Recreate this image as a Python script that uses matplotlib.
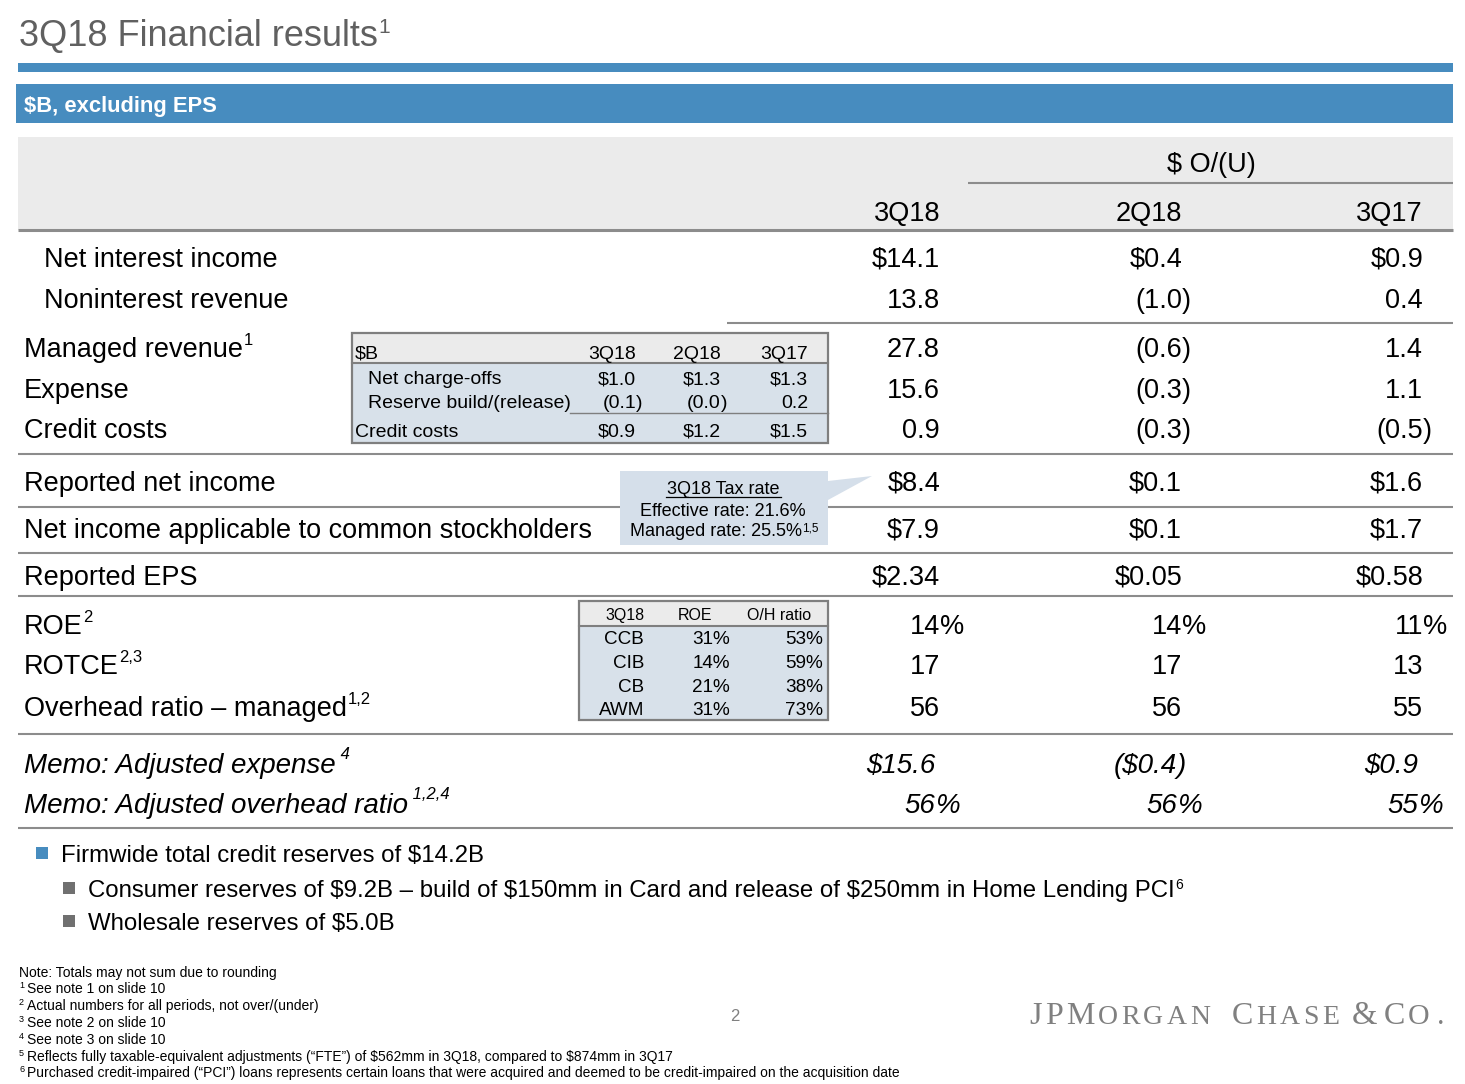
import matplotlib.pyplot as plt
from matplotlib.patches import Rectangle, Polygon

plt.rcParams['font.family'] = ['Liberation Sans', 'DejaVu Sans']
plt.rcParams['text.parse_math'] = False

# --- data ---
title = "3Q18 Financial results"
band_label = "$B, excluding EPS"
col_heads = ["3Q18", "2Q18", "3Q17"]

row_labels = ["Net interest income", "Noninterest revenue", "Managed revenue",
              "Expense", "Credit costs", "Reported net income",
              "Net income applicable to common stockholders", "Reported EPS",
              "ROE", "ROTCE", "Overhead ratio \u2013 managed",
              "Memo: Adjusted expense", "Memo: Adjusted overhead ratio"]
row_sups = ["", "", "1", "", "", "", "", "", "2", "2,3", "1,2", " 4", " 1,2,4"]
v_3q18 = ["$14.1", "13.8", "27.8", "15.6", "0.9", "$8.4", "$7.9", "$2.34",
          "14%", "17", "56", "$15.6", "56%"]
v_2q18 = ["$0.4", "(1.0)", "(0.6)", "(0.3)", "(0.3)", "$0.1", "$0.1", "$0.05",
          "14%", "17", "56", "($0.4)", "56%"]
v_3q17 = ["$0.9", "0.4", "1.4", "1.1", "(0.5)", "$1.6", "$1.7", "$0.58",
          "11%", "13", "55", "$0.9", "55%"]

cc_rows = ["Net charge-offs", "Reserve build/(release)", "Credit costs"]
cc_vals = [["$1.0", "$1.3", "$1.3"],
           ["(0.1)", "(0.0)", "0.2"],
           ["$0.9", "$1.2", "$1.5"]]

seg_heads = ["3Q18", "ROE", "O/H ratio"]
segments = ["CCB", "CIB", "CB", "AWM"]
seg_roe = ["31%", "14%", "21%", "31%"]
seg_oh = ["53%", "59%", "38%", "73%"]

tax_lines = ["3Q18 Tax rate", "Effective rate: 21.6%", "Managed rate: 25.5%"]

bullets = ["Firmwide total credit reserves of $14.2B",
           "Consumer reserves of $9.2B \u2013 build of $150mm in Card and release of $250mm in Home Lending PCI",
           "Wholesale reserves of $5.0B"]

notes = ["Note: Totals may not sum due to rounding",
         "See note 1 on slide 10",
         "Actual numbers for all periods, not over/(under)",
         "See note 2 on slide 10",
         "See note 3 on slide 10",
         "Reflects fully taxable-equivalent adjustments (\u201cFTE\u201d) of $562mm in 3Q18, compared to $874mm in 3Q17",
         "Purchased credit-impaired (\u201cPCI\u201d) loans represents certain loans that were acquired and deemed to be credit-impaired on the acquisition date"]
note_marks = ["", "1", "2", "3", "4", "5", "6"]

# --- layout / style ---
BLUE = '#478cbf'
LINE = '#8c8c8c'
BOXEDGE = '#7f7f7f'
HEADGRAY = '#ebebeb'
BOXBLUE = '#d8e1ea'
TXT = '#000000'
LOGO = '#808080'

fig = plt.figure(figsize=(14.65, 10.84), dpi=100)
ax = fig.add_axes([0, 0, 1, 1])
ax.set_xlim(0, 1465)
ax.set_ylim(1084, 0)
ax.axis('off')


def put(x, y, s, size, ha='left', **kw):
    # y is the visual centre of the capitals
    base = y + 0.36 * size * 100 / 72
    return ax.text(x, base, s, fontsize=size, ha=ha, va='baseline', **kw)


def sup(t, s, size, rise=1.5, **kw):
    return ax.annotate(s, xy=(1, 1), xycoords=t, xytext=(0.3, rise),
                       textcoords='offset points', fontsize=size,
                       ha='left', va='top', **kw)


def put_num(x, y, s, size, **kw):
    if s[-1] in ')%':
        put(x, y, s[:-1], size, ha='right', **kw)
        put(x, y, s[-1], size, ha='left', **kw)
    else:
        put(x, y, s, size, ha='right', **kw)


def hline(y, x0=18, x1=1453, lw=1.5):
    ax.plot([x0, x1], [y, y], color=LINE, lw=lw, solid_capstyle='butt', zorder=2)


# title + bands
t = put(19, 33, title, 26, color='#606060')
sup(t, "1", 15, rise=1, color='#606060')
ax.add_patch(Rectangle((18, 63), 1435, 9, color=BLUE, lw=0))
ax.add_patch(Rectangle((16, 84), 1437, 39, color=BLUE, lw=0))
put(24, 104, band_label, 15.8, color='white', fontweight='bold')

# header block
ax.add_patch(Rectangle((18, 137), 1435, 93, color=HEADGRAY, lw=0))
put(1211, 162, "$ O/(U)", 19.5, ha='center', color=TXT)
hline(183, 968, 1453)
cols_x = [940, 1182, 1423]
for cx, h in zip(cols_x, col_heads):
    put(cx, 211, h, 19.5, ha='right', color=TXT)
hline(230, lw=2.2)

# main rows
row_y = [257, 298, 347, 388, 428, 481, 528, 575, 624, 664, 706, 763, 803]
label_x = [44, 44] + [24] * 11
for i, lab in enumerate(row_labels):
    memo = lab.startswith("Memo")
    size = 20 if memo else 19.5
    style = 'italic' if memo else 'normal'
    shift = -5 if memo else 0
    t = put(label_x[i], row_y[i], lab, size, color=TXT, fontstyle=style)
    if row_sups[i]:
        sup(t, row_sups[i], 12, rise=2.5 if not memo else 4, color=TXT, fontstyle=style)
    for cx, vals in zip(cols_x, [v_3q18, v_2q18, v_3q17]):
        put_num(cx + shift, row_y[i], vals[i], size, color=TXT, fontstyle=style)

hline(323, 727, 1453)
for y in [454, 507, 553, 596, 734, 828]:
    hline(y)

# credit cost box
ax.add_patch(Rectangle((352, 333), 476, 110, facecolor=BOXBLUE, edgecolor='none', zorder=3))
ax.add_patch(Rectangle((352, 333), 476, 30, facecolor=HEADGRAY, edgecolor='none', zorder=3))
ax.plot([352, 828], [363, 363], color=BOXEDGE, lw=1.5, zorder=4)
ax.plot([570, 828], [413, 413], color=BOXEDGE, lw=1, zorder=4)
ax.add_patch(Rectangle((352, 333), 476, 110, facecolor='none', edgecolor=BOXEDGE, lw=1.6, zorder=5))
cc_x = [636, 721, 808]
put(355, 352, "$B", 14, color=TXT, zorder=6)
for cx, h in zip(cc_x, col_heads):
    put(cx, 352, h, 14, ha='right', color=TXT, zorder=6)
cc_y = [377, 401, 430]
cc_lx = [368, 368, 355]
for r, lab in enumerate(cc_rows):
    put(cc_lx[r], cc_y[r], lab, 14, color=TXT, zorder=6)
    for cx, v in zip(cc_x, cc_vals[r]):
        put_num(cx, cc_y[r], v, 14, color=TXT, zorder=6)

# tax rate call-out
ax.add_patch(Polygon([(620, 471), (828, 471), (828, 481), (872, 476), (828, 500),
                      (828, 545), (620, 545)], closed=True, facecolor='#d5dfea',
                     edgecolor='none', zorder=3))
put(723, 487, tax_lines[0], 13, ha='center', color=TXT, zorder=6)
ax.plot([666, 781], [497, 497], color=TXT, lw=0.9, zorder=6)
put(723, 509, tax_lines[1], 13, ha='center', color=TXT, zorder=6)
t = put(716, 530, tax_lines[2], 13, ha='center', color=TXT, zorder=6)
sup(t, "1,5", 8.5, rise=0.5, color=TXT, zorder=6)

# segment box
ax.add_patch(Rectangle((579, 601), 249, 119, facecolor=BOXBLUE, edgecolor='none', zorder=3))
ax.add_patch(Rectangle((579, 601), 249, 25, facecolor=HEADGRAY, edgecolor='none', zorder=3))
ax.plot([579, 828], [626, 626], color=BOXEDGE, lw=1.5, zorder=4)
ax.add_patch(Rectangle((579, 601), 249, 119, facecolor='none', edgecolor=BOXEDGE, lw=1.6, zorder=5))
for cx, h in zip([625, 695, 779], seg_heads):
    put(cx, 614, h, 11.5, ha='center', color=TXT, zorder=6)
seg_y = [637, 661, 685, 708]
for r, s in enumerate(segments):
    put(644, seg_y[r], s, 13.6, ha='right', color=TXT, zorder=6)
    put(730, seg_y[r], seg_roe[r], 13.6, ha='right', color=TXT, zorder=6)
    put(823, seg_y[r], seg_oh[r], 13.6, ha='right', color=TXT, zorder=6)

# bullets
ax.add_patch(Rectangle((36, 847), 12, 12, color=BLUE, lw=0))
put(61, 853, bullets[0], 17.3, color=TXT)
for y, b in zip([888, 921], bullets[1:]):
    ax.add_patch(Rectangle((63, y - 6), 12, 12, color='#707070', lw=0))
    t = put(88, y, b, 17.3, color=TXT)
    if b.endswith("PCI"):
        sup(t, "6", 10, rise=1, color=TXT)

# footnotes
note_y = [972, 988, 1005, 1022, 1039, 1056, 1072]
for y, mark, n in zip(note_y, note_marks, notes):
    if mark:
        put(19, y - 3, mark, 6.5, color=TXT)
        put(27, y, n, 10, color=TXT)
    else:
        put(19, y, n, 10, color=TXT)

put(735, 1015, "2", 12, ha='center', color='#808080')

# logo (small caps built letter by letter, all on one baseline)
logo = [("J", 23), ("P", 23), ("M", 23), ("O", 20), ("R", 20), ("G", 20), ("A", 20), ("N", 20),
        ("C", 23), ("H", 20), ("A", 20), ("S", 20), ("E", 20), ("&", 23.5), ("C", 23), ("O", 21.5), (".", 21.5)]
gaps = {8: 16, 13: 9, 14: 5, 15: 2, 16: 5}
LOGO_BASE = 1024
prev = ax.text(1029, LOGO_BASE, logo[0][0], fontsize=logo[0][1], family='Liberation Serif',
               color=LOGO, va='baseline', ha='left')
for i, (ch, size) in enumerate(logo[1:], start=1):
    prev = ax.annotate(ch, xy=(1, LOGO_BASE), xycoords=(prev, 'data'),
                       xytext=(gaps.get(i, 2.4), 0), textcoords='offset points',
                       fontsize=size, family='Liberation Serif', color=LOGO,
                       va='baseline', ha='left')

fig.savefig('out.png', dpi=100)
